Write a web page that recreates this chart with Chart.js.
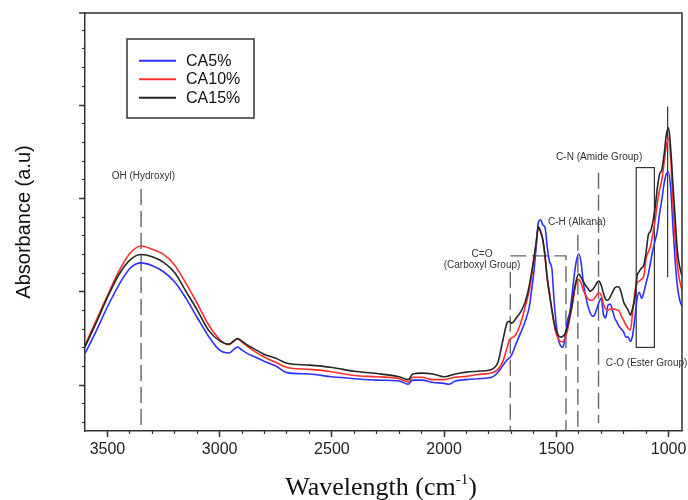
<!DOCTYPE html>
<html>
<head>
<meta charset="utf-8">
<title>FTIR spectra CA5% / CA10% / CA15%</title>
<script src="https://cdn.jsdelivr.net/npm/chart.js@4.4.1/dist/chart.umd.min.js"></script>
<style>
  html, body { margin: 0; padding: 0; background: #fff; }
  #wrap { width: 688px; height: 500px; position: relative; }
</style>
</head>
<body>
<div id="wrap"><canvas id="ftirChart"></canvas></div>
<script>
// wavenumber (cm-1)
const wavenumbers = [
  3600, 3550, 3500, 3450, 3400, 3350, 3300, 3250, 3200, 3150,
  3100, 3050, 3000, 2960, 2920, 2900, 2870, 2850, 2800, 2750,
  2700, 2600, 2500, 2400, 2300, 2200, 2160, 2140, 2100, 2050,
  2000, 1980, 1950, 1900, 1850, 1800, 1780, 1760, 1740, 1720,
  1710, 1700, 1690, 1680, 1660, 1640, 1620, 1610, 1600, 1590,
  1580, 1570, 1560, 1550, 1540, 1530, 1520, 1510, 1500, 1490,
  1480, 1470, 1460, 1450, 1440, 1430, 1420, 1410, 1400, 1390,
  1380, 1370, 1360, 1350, 1340, 1330, 1320, 1310, 1300, 1290,
  1280, 1270, 1260, 1250, 1240, 1230, 1220, 1210, 1200, 1190,
  1180, 1170, 1160, 1150, 1140, 1130, 1120, 1110, 1100, 1090,
  1080, 1070, 1060, 1050, 1040, 1030, 1020, 1010, 1000, 990,
  980, 970, 960, 950, 940
];

const ca5 = [
  0.268, 0.316, 0.368, 0.414, 0.450, 0.462, 0.456, 0.443, 0.421, 0.386,
  0.345, 0.305, 0.275, 0.269, 0.282, 0.275, 0.266, 0.262, 0.251, 0.241,
  0.227, 0.224, 0.218, 0.214, 0.211, 0.209, 0.202, 0.211, 0.211, 0.206,
  0.204, 0.202, 0.209, 0.212, 0.214, 0.216, 0.219, 0.228, 0.241, 0.254,
  0.258, 0.264, 0.275, 0.288, 0.311, 0.335, 0.369, 0.404, 0.442, 0.494,
  0.549, 0.554, 0.543, 0.537, 0.494, 0.464, 0.451, 0.382, 0.329, 0.296,
  0.284, 0.281, 0.307, 0.339, 0.356, 0.393, 0.436, 0.468, 0.481, 0.464,
  0.421, 0.393, 0.371, 0.356, 0.348, 0.350, 0.363, 0.378, 0.386, 0.352,
  0.344, 0.371, 0.374, 0.361, 0.344, 0.335, 0.326, 0.320, 0.314, 0.303,
  0.303, 0.294, 0.307, 0.344, 0.386, 0.399, 0.386, 0.399, 0.419, 0.438,
  0.464, 0.489, 0.509, 0.530, 0.567, 0.597, 0.631, 0.652, 0.657, 0.618,
  0.537, 0.464, 0.410, 0.382, 0.369
];

const ca10 = [
  0.286, 0.339, 0.392, 0.443, 0.482, 0.498, 0.491, 0.480, 0.457, 0.418,
  0.375, 0.330, 0.298, 0.287, 0.299, 0.292, 0.281, 0.274, 0.260, 0.249,
  0.238, 0.234, 0.229, 0.221, 0.218, 0.214, 0.207, 0.217, 0.217, 0.212,
  0.212, 0.214, 0.217, 0.219, 0.223, 0.225, 0.228, 0.234, 0.249, 0.279,
  0.296, 0.301, 0.304, 0.309, 0.331, 0.365, 0.404, 0.434, 0.468, 0.504,
  0.537, 0.530, 0.511, 0.472, 0.431, 0.397, 0.361, 0.331, 0.309, 0.299,
  0.293, 0.293, 0.303, 0.318, 0.344, 0.369, 0.399, 0.421, 0.427, 0.419,
  0.404, 0.393, 0.386, 0.382, 0.382, 0.386, 0.393, 0.398, 0.393, 0.374,
  0.363, 0.361, 0.363, 0.363, 0.363, 0.361, 0.359, 0.348, 0.339, 0.329,
  0.322, 0.318, 0.356, 0.399, 0.419, 0.423, 0.427, 0.434, 0.472, 0.485,
  0.498, 0.524, 0.552, 0.590, 0.618, 0.639, 0.676, 0.712, 0.729, 0.682,
  0.586, 0.511, 0.455, 0.423, 0.404
];

const ca15 = [
  0.282, 0.334, 0.388, 0.436, 0.468, 0.480, 0.475, 0.463, 0.441, 0.401,
  0.361, 0.318, 0.295, 0.288, 0.300, 0.294, 0.284, 0.279, 0.266, 0.258,
  0.247, 0.243, 0.238, 0.230, 0.225, 0.218, 0.212, 0.224, 0.226, 0.224,
  0.218, 0.220, 0.224, 0.228, 0.230, 0.232, 0.236, 0.249, 0.292, 0.333,
  0.337, 0.333, 0.336, 0.343, 0.356, 0.376, 0.414, 0.442, 0.472, 0.504,
  0.539, 0.528, 0.511, 0.477, 0.425, 0.393, 0.363, 0.335, 0.316, 0.306,
  0.303, 0.305, 0.311, 0.326, 0.348, 0.371, 0.404, 0.427, 0.438, 0.431,
  0.423, 0.414, 0.408, 0.401, 0.404, 0.410, 0.419, 0.423, 0.414, 0.397,
  0.384, 0.382, 0.389, 0.399, 0.408, 0.411, 0.410, 0.397, 0.378, 0.369,
  0.361, 0.350, 0.365, 0.386, 0.434, 0.444, 0.451, 0.457, 0.485, 0.522,
  0.530, 0.549, 0.579, 0.622, 0.652, 0.661, 0.693, 0.736, 0.751, 0.704,
  0.627, 0.554, 0.485, 0.453, 0.434
];

const seriesNames = ['CA5%', 'CA10%', 'CA15%'];
const seriesColors = ['#2f2fff', '#ff2f2f', '#262626'];

const xMajorTicks = [1000, 1500, 2000, 2500, 3000, 3500];
const xMinorTicks = [1000, 1100, 1200, 1300, 1400, 1500, 1600, 1700, 1800, 1900, 2000,
  2100, 2200, 2300, 2400, 2500, 2600, 2700, 2800, 2900, 3000, 3100, 3200, 3300, 3400, 3500];
const yMajorTicks = [0.2, 0.4, 0.6, 0.8];
const yMinorTicks = [0.12, 0.16, 0.2, 0.24, 0.28, 0.32, 0.36, 0.4, 0.44, 0.48, 0.52, 0.56,
  0.6, 0.64, 0.68, 0.72, 0.76, 0.8, 0.84, 0.88, 0.92, 0.96];

const X_MIN = 940, X_MAX = 3600;
const Y_MIN = 0.102, Y_MAX = 0.997;

// band assignments (wavenumber, absorbance)
const dashedMarks = [
  { x: 3350, top: 0.620, bottom: 0.104 },
  { x: 1705, top: 0.443, bottom: 0.104 },
  { x: 1404, top: 0.522, bottom: 0.104 },
  { x: 1312, top: 0.655, bottom: 0.119 }
];
const carboxylBracket = { x1: 1705, x2: 1457, top: 0.477, bottom: 0.104 };
const esterBox = { x1: 1144, x2: 1063, y1: 0.281, y2: 0.666 };
const peakMark = { x: 1004, y1: 0.431, y2: 0.797 };
const bandTexts = [
  { text: 'OH (Hydroxyl)', x: 3340, y: 0.647 },
  { text: 'C=O', x: 1831, y: 0.481 },
  { text: '(Carboxyl Group)', x: 1831, y: 0.456 },
  { text: 'C-H (Alkana)', x: 1408, y: 0.549 },
  { text: 'C-N (Amide Group)', x: 1309, y: 0.689 },
  { text: 'C-O (Ester Group)', x: 1098, y: 0.247 }
];

const SANS = '"Liberation Sans", Arial, sans-serif';
const SERIF = '"Liberation Serif", "Times New Roman", serif';
const AXIS_COLOR = '#333';

function toPoints(values) {
  return wavenumbers.map((w, i) => ({ x: w, y: values[i] }));
}

const decorPlugin = {
  id: 'decor',
  beforeDatasetsDraw(chart) {
    const { ctx, scales: { x, y } } = chart;
    ctx.save();
    ctx.strokeStyle = '#666';
    ctx.lineWidth = 1.4;
    ctx.setLineDash([16, 6]);
    dashedMarks.forEach(m => {
      const px = x.getPixelForValue(m.x);
      ctx.beginPath();
      ctx.moveTo(px, y.getPixelForValue(m.top));
      ctx.lineTo(px, y.getPixelForValue(m.bottom));
      ctx.stroke();
    });
    const b = carboxylBracket;
    ctx.beginPath();
    ctx.moveTo(x.getPixelForValue(b.x1), y.getPixelForValue(b.top));
    ctx.lineTo(x.getPixelForValue(b.x2), y.getPixelForValue(b.top));
    ctx.lineTo(x.getPixelForValue(b.x2), y.getPixelForValue(b.bottom));
    ctx.stroke();

    ctx.setLineDash([]);
    ctx.strokeStyle = '#333';
    ctx.lineWidth = 1.2;
    const bx1 = x.getPixelForValue(esterBox.x1), bx2 = x.getPixelForValue(esterBox.x2);
    const by1 = y.getPixelForValue(esterBox.y2), by2 = y.getPixelForValue(esterBox.y1);
    ctx.strokeRect(bx1, by1, bx2 - bx1, by2 - by1);
    ctx.beginPath();
    ctx.moveTo(x.getPixelForValue(peakMark.x), y.getPixelForValue(peakMark.y1));
    ctx.lineTo(x.getPixelForValue(peakMark.x), y.getPixelForValue(peakMark.y2));
    ctx.stroke();

    ctx.fillStyle = '#333';
    ctx.font = '10px ' + SANS;
    ctx.textAlign = 'center';
    ctx.textBaseline = 'middle';
    bandTexts.forEach(t => {
      ctx.fillText(t.text, x.getPixelForValue(t.x), y.getPixelForValue(t.y));
    });
    ctx.restore();
  },
  afterDraw(chart) {
    const { ctx, chartArea: ca } = chart;
    ctx.save();
    // top and right frame
    ctx.strokeStyle = AXIS_COLOR;
    ctx.lineWidth = 1.5;
    ctx.beginPath();
    ctx.moveTo(ca.left - 6, ca.top);
    ctx.lineTo(ca.right, ca.top);
    ctx.lineTo(ca.right, ca.bottom);
    ctx.stroke();

    // legend
    const lx = ca.left + 42, ly = ca.top + 26;
    ctx.strokeRect(lx, ly, 127, 79);
    ctx.font = '16px ' + SANS;
    ctx.textAlign = 'left';
    ctx.textBaseline = 'middle';
    chart.data.datasets.forEach((ds, i) => {
      const rowY = ly + 21.7 + i * 18.5;
      ctx.strokeStyle = ds.borderColor;
      ctx.lineWidth = 2;
      ctx.beginPath();
      ctx.moveTo(lx + 12, rowY);
      ctx.lineTo(lx + 49, rowY);
      ctx.stroke();
      ctx.fillStyle = '#111';
      ctx.fillText(ds.label, lx + 59, rowY + 0.5);
    });

    // y title
    ctx.fillStyle = '#111';
    ctx.save();
    ctx.translate(24, (ca.top + ca.bottom) / 2);
    ctx.rotate(-Math.PI / 2);
    ctx.font = '20px ' + SANS;
    ctx.textAlign = 'center';
    ctx.textBaseline = 'middle';
    ctx.fillText('Absorbance (a.u)', 0, 0);
    ctx.restore();

    // x title with superscript
    const main = 'Wavelength (cm', sup = '-1', close = ')';
    ctx.textBaseline = 'alphabetic';
    ctx.textAlign = 'left';
    ctx.font = '26px ' + SERIF;
    const w1 = ctx.measureText(main).width, w3 = ctx.measureText(close).width;
    ctx.font = '15px ' + SERIF;
    const w2 = ctx.measureText(sup).width;
    let tx = 381 - (w1 + w2 + w3) / 2;
    const base = 495;
    ctx.font = '26px ' + SERIF;
    ctx.fillText(main, tx, base);
    tx += w1;
    ctx.font = '15px ' + SERIF;
    ctx.fillText(sup, tx, base - 11);
    tx += w2;
    ctx.font = '26px ' + SERIF;
    ctx.fillText(close, tx, base);
    ctx.restore();
  }
};

const ctx = document.getElementById('ftirChart').getContext('2d');
new Chart(ctx, {
  type: 'line',
  data: {
    datasets: [
      { label: seriesNames[0], data: toPoints(ca5), borderColor: seriesColors[0], order: 2 },
      { label: seriesNames[1], data: toPoints(ca10), borderColor: seriesColors[1], order: 1 },
      { label: seriesNames[2], data: toPoints(ca15), borderColor: seriesColors[2], order: 0 }
    ]
  },
  options: {
    responsive: true,
    maintainAspectRatio: false,
    animation: false,
    parsing: false,
    layout: { padding: { top: 13, right: 6, left: 0, bottom: 0 } },
    elements: {
      line: { borderWidth: 1.6, cubicInterpolationMode: 'monotone', fill: false },
      point: { radius: 0, hoverRadius: 0 }
    },
    plugins: {
      legend: { display: false },
      tooltip: { enabled: false }
    },
    scales: {
      x: {
        type: 'linear',
        position: 'bottom',
        reverse: true,
        min: X_MIN,
        max: X_MAX,
        afterBuildTicks: s => { s.ticks = xMajorTicks.map(v => ({ value: v })); },
        afterFit: s => { s.height = 69; },
        ticks: {
          autoSkip: false,
          maxRotation: 0,
          padding: 3,
          color: '#222',
          font: { family: SANS, size: 16 },
          callback: v => String(v)
        },
        grid: { drawOnChartArea: false, drawTicks: true, tickLength: 6, tickColor: AXIS_COLOR, tickWidth: 1.5 },
        border: { display: true, color: AXIS_COLOR, width: 1.5 }
      },
      xMinor: {
        type: 'linear',
        axis: 'x',
        position: { y: Y_MIN },
        reverse: true,
        min: X_MIN,
        max: X_MAX,
        afterBuildTicks: s => { s.ticks = xMinorTicks.map(v => ({ value: v })); },
        afterFit: s => { s.height = 0; },
        ticks: { display: false },
        grid: { drawOnChartArea: false, drawTicks: true, tickLength: 3, tickColor: AXIS_COLOR, tickWidth: 1.2 },
        border: { display: false }
      },
      y: {
        type: 'linear',
        position: 'left',
        min: Y_MIN,
        max: Y_MAX,
        afterBuildTicks: s => { s.ticks = yMajorTicks.map(v => ({ value: v })); },
        afterFit: s => { s.width = 85; },
        ticks: { display: false },
        grid: { drawOnChartArea: false, drawTicks: true, tickLength: 6, tickColor: AXIS_COLOR, tickWidth: 1.5 },
        border: { display: true, color: AXIS_COLOR, width: 1.5 }
      },
      yMinor: {
        type: 'linear',
        axis: 'y',
        position: { x: X_MAX },
        min: Y_MIN,
        max: Y_MAX,
        afterBuildTicks: s => { s.ticks = yMinorTicks.map(v => ({ value: v })); },
        afterFit: s => { s.width = 0; },
        ticks: { display: false },
        grid: { drawOnChartArea: false, drawTicks: true, tickLength: 3, tickColor: AXIS_COLOR, tickWidth: 1.2 },
        border: { display: false }
      }
    }
  },
  plugins: [decorPlugin]
});
</script>
</body>
</html>
